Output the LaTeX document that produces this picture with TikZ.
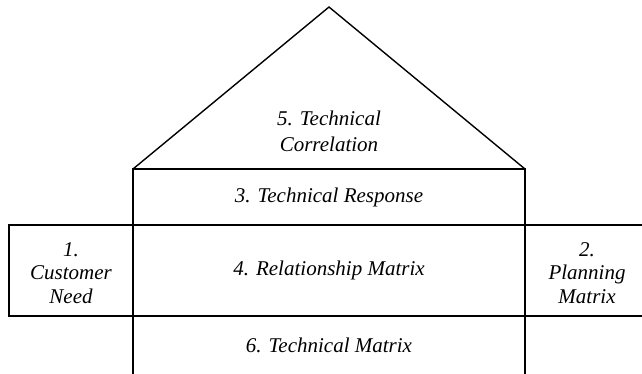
\documentclass[tikz,border=0pt]{standalone}
\usepackage{fontspec}
\setmainfont{Liberation Serif}
\begin{document}
\begin{tikzpicture}[x=1pt,y=-1pt,
  frame/.style={draw=black,line width=2pt},
  roofline/.style={draw=black,line width=1.4pt,line join=miter},
  label/.style={font=\fontsize{21}{26}\selectfont\itshape,align=center,inner sep=0pt},
  sidelabel/.style={font=\fontsize{21}{23.5}\selectfont\itshape,align=center,inner sep=0pt}]
  \useasboundingbox (0,0) rectangle (642,373);
  \clip (0,0) rectangle (642,373);
  % corner points of the house
  \coordinate (apex) at (329,7);
  \coordinate (eaveL) at (133,169);
  \coordinate (eaveR) at (525,169);
  \coordinate (floorL) at (133,225);
  \coordinate (floorR) at (525,225);
  \coordinate (baseL) at (133,316);
  \coordinate (baseR) at (525,316);
  % roof
  \draw[roofline] (eaveL) -- (apex) -- (eaveR);
  % main body, open past the lower edge
  \draw[frame] (133,390) -- (eaveL) -- (eaveR) -- (525,390);
  \draw[frame] (floorL) -- (floorR);
  \draw[frame] (baseL) -- (baseR);
  % side rooms
  \draw[frame] (floorL) -- (9,225) -- (9,316) -- (baseL);
  \draw[frame] (floorR) -- (660,225);
  \draw[frame] (baseR) -- (660,316);
  \draw[frame] (floorL) -- (baseL);
  \draw[frame] (floorR) -- (baseR);
  % labels
  \node[label] (corr) at (329,131) {5. Technical\\Correlation};
  \node[label] (resp) at (329,197) {3. Technical Response};
  \node[label] (rel) at (329,270) {4. Relationship Matrix};
  \node[label] (tmat) at (329,345) {6. Technical Matrix};
  \node[sidelabel] (need) at (71,273) {1.\\Customer\\Need};
  \node[sidelabel] (plan) at (587,273) {2.\\Planning\\Matrix};
\end{tikzpicture}
\end{document}
